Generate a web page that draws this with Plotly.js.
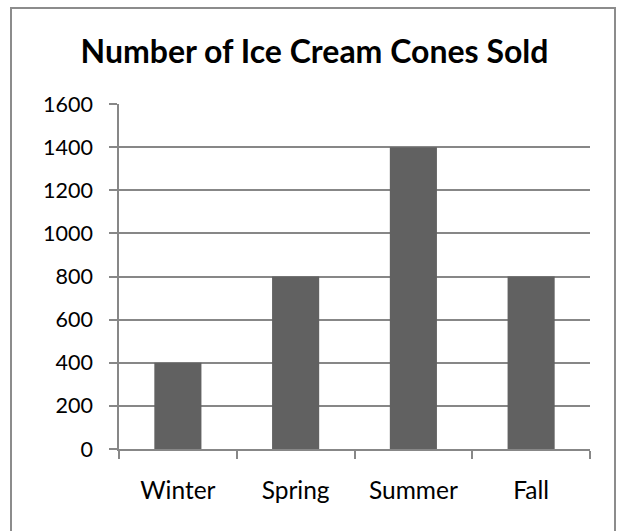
<!DOCTYPE html>
<html>
<head>
<meta charset="utf-8">
<script src="https://cdn.plot.ly/plotly-3.0.1.min.js"></script>
<style>html,body{margin:0;padding:0;background:#fff;}#chart{width:618px;height:531px;}</style>
</head>
<body>
<div id="chart"></div>
<script>
const categories = ["Winter", "Spring", "Summer", "Fall"];
const conesSold = [400, 800, 1400, 800];
const yTickValues = [0, 200, 400, 600, 800, 1000, 1200, 1400, 1600];
const chartTitle = "Number of Ice Cream Cones Sold";

const W = 618, H = 531;
const m = {l: 119, r: 28, t: 104, b: 82};
const pw = W - m.l - m.r, ph = H - m.t - m.b;
function px2x(px) { return (px - m.l) / pw; }
function px2y(py) { return (H - m.b - py) / ph; }

const trace = {
  type: "bar",
  x: categories,
  y: conesSold,
  width: 0.4,
  marker: {color: "#616161", line: {width: 0}},
  hoverinfo: "x+y"
};

const layout = {
  width: W, height: H,
  margin: m,
  paper_bgcolor: "#ffffff",
  plot_bgcolor: "#ffffff",
  showlegend: false,
  font: {family: "Lato, 'Open Sans', sans-serif", color: "#000000"},
  title: {
    text: "<b>" + chartTitle + "</b>",
    font: {family: "Lato, 'Open Sans', sans-serif", size: 32, color: "#000000"},
    xref: "container", x: 314.5 / W, xanchor: "center",
    yref: "container", y: 1 - 52 / H, yanchor: "middle"
  },
  xaxis: {
    type: "category",
    showgrid: false,
    showline: true, linecolor: "#878787", linewidth: 1.5,
    ticks: "outside", ticklen: 8, tickcolor: "#878787", tickwidth: 1.5,
    tickson: "boundaries",
    ticklabelstandoff: 19,
    tickfont: {size: 24.5, family: "Lato, 'Open Sans', sans-serif", color: "#000"},
    zeroline: false,
    fixedrange: true
  },
  yaxis: {
    range: [0, 1600],
    tickmode: "array",
    tickvals: yTickValues,
    ticktext: yTickValues.map(String),
    showgrid: true, gridcolor: "#878787", gridwidth: 1.5,
    showline: true, linecolor: "#878787", linewidth: 1.5,
    ticks: "outside", ticklen: 8, tickcolor: "#878787", tickwidth: 1.5,
    ticklabelstandoff: 12,
    tickfont: {size: 21.5, family: "Lato, 'Open Sans', sans-serif", color: "#000"},
    zeroline: false,
    fixedrange: true
  },
  shapes: [{
    type: "rect", xref: "paper", yref: "paper",
    x0: px2x(11), x1: px2x(615), y0: px2y(545), y1: px2y(8),
    line: {color: "#8c8c8c", width: 2},
    fillcolor: "rgba(0,0,0,0)", layer: "below"
  }]
};

Plotly.newPlot("chart", [trace], layout, {displayModeBar: false, staticPlot: false});
</script>
</body>
</html>
